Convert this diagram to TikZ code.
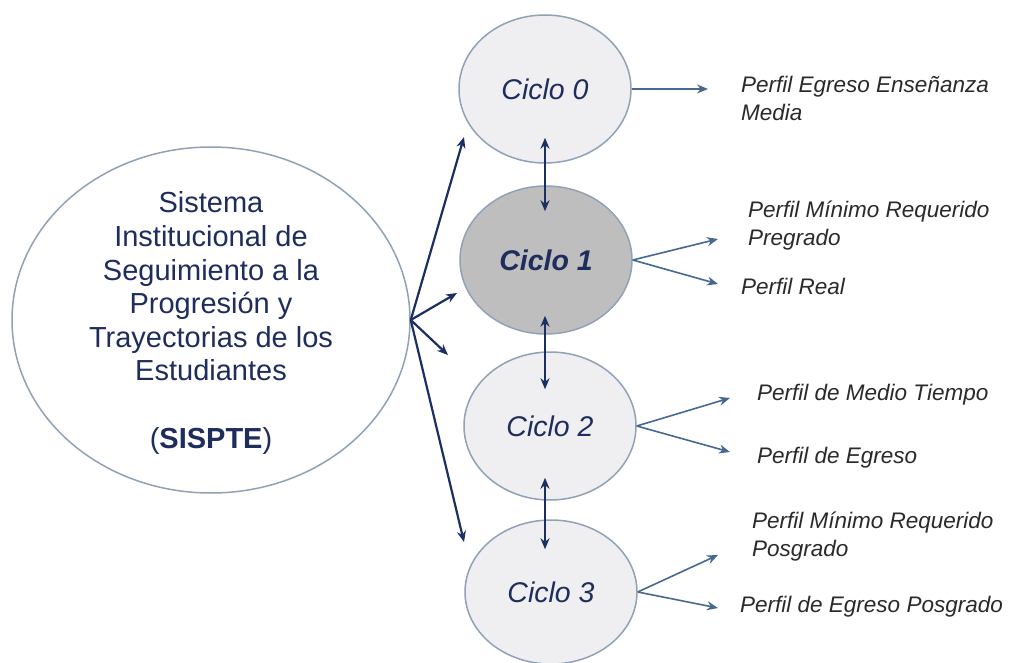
\documentclass[tikz,border=0pt]{standalone}
\usepackage{fontspec}
\setmainfont{Liberation Sans}
\usetikzlibrary{shapes.geometric,arrows.meta,calc}
\definecolor{navy}{HTML}{1F2D5C}
\definecolor{darrow}{HTML}{1C2F63}
\definecolor{larrow}{HTML}{46698F}
\definecolor{rim}{HTML}{8FA2B6}
\definecolor{cfill}{HTML}{EFEFF1}
\definecolor{cgray}{HTML}{BEBEBE}
\definecolor{lbl}{HTML}{2A2A2A}
\begin{document}
\begin{tikzpicture}[x=1pt,y=-1pt,
 cyc/.style={ellipse, draw=rim, line width=1.5pt, fill=cfill, minimum width=172pt, minimum height=148pt, inner sep=0pt, font=\fontsize{28.5}{30}\selectfont\itshape, text=navy},
 bigarrow/.style={draw=darrow, line width=2.2pt, -{Stealth[length=11pt,width=9pt]}},
 dblarrow/.style={draw=darrow, line width=2.2pt, {Stealth[length=11pt,width=9pt]}-{Stealth[length=11pt,width=9pt]}},
 outarrow/.style={draw=larrow, line width=1.6pt, -{Stealth[length=11pt,width=9pt]}},
 lbltext/.style={font=\fontsize{22.5}{28}\selectfont\itshape, text=lbl, align=left, anchor=west, inner sep=0pt}
]
\fill[white] (0,0) rectangle (1009,663);
\useasboundingbox (0,0) rectangle (1009,663);

% main ellipse
\node[ellipse, draw=rim, line width=1.5pt, fill=white, minimum width=398pt, minimum height=346pt, inner sep=0pt] (big) at (211,320) {};
\node[font=\fontsize{29}{33.6}\selectfont, text=navy, align=center] (bigtext) at (211,323)
 {Sistema\\Institucional de\\Seguimiento a la\\Progresión y\\Trayectorias de los\\Estudiantes\\[33.6pt](\textbf{SISPTE})};

% cycles
\node[cyc] (c0) at (545,89) {Ciclo 0};
\node[cyc, fill=cgray, font=\fontsize{28.5}{30}\selectfont\itshape\bfseries] (c1) at (546,260) {Ciclo 1};
\node[cyc] (c2) at (550,426) {Ciclo 2};
\node[cyc, minimum height=144pt] (c3) at (551,592) {Ciclo 3};

% arrows from main ellipse
\coordinate (hub) at (big.east);
\coordinate (t0) at (464,137);
\coordinate (t1) at (457,293);
\coordinate (t2) at (448,355);
\coordinate (t3) at (464,542);
\draw[bigarrow] (hub) -- (t0);
\draw[bigarrow] (hub) -- (t1);
\draw[bigarrow] (hub) -- (t2);
\draw[bigarrow] (hub) -- (t3);

% vertical double arrows
\draw[dblarrow] ($(c0.south)+(0,-26)$) -- ($(c1.north)+(-1,26)$);
\draw[dblarrow] ($(c1.south)+(-1,-19)$) -- ($(c2.north)+(-5,38)$);
\draw[dblarrow] ($(c2.south)+(-5,-23)$) -- ($(c3.north)+(-6,30)$);

% labels
\node[lbltext] (l0) at (741,98) {Perfil Egreso Enseñanza\\Media};
\node[lbltext] (l1a) at (748,226) {Perfil Mínimo Requerido\\Pregrado};
\node[lbltext] (l1b) at (741,286) {Perfil Real};
\node[lbltext] (l2a) at (757,395) {Perfil de Medio Tiempo};
\node[lbltext] (l2b) at (757,458) {Perfil de Egreso};
\node[lbltext] (l3a) at (752,537) {Perfil Mínimo Requerido\\Posgrado};
\node[lbltext] (l3b) at (740,607) {Perfil de Egreso Posgrado};

% output arrows
\coordinate (e0) at (708,89);
\coordinate (e1a) at (718,239);
\coordinate (e1b) at (718,284);
\coordinate (e2a) at (730,398);
\coordinate (e2b) at (730,452);
\coordinate (e3a) at (718,555);
\coordinate (e3b) at (718,608);
\draw[outarrow] (c0.east) -- (e0);
\draw[outarrow] (c1.east) -- (e1a);
\draw[outarrow] (c1.east) -- (e1b);
\draw[outarrow] (c2.east) -- (e2a);
\draw[outarrow] (c2.east) -- (e2b);
\draw[outarrow] (c3.east) -- (e3a);
\draw[outarrow] (c3.east) -- (e3b);
\end{tikzpicture}
\end{document}
